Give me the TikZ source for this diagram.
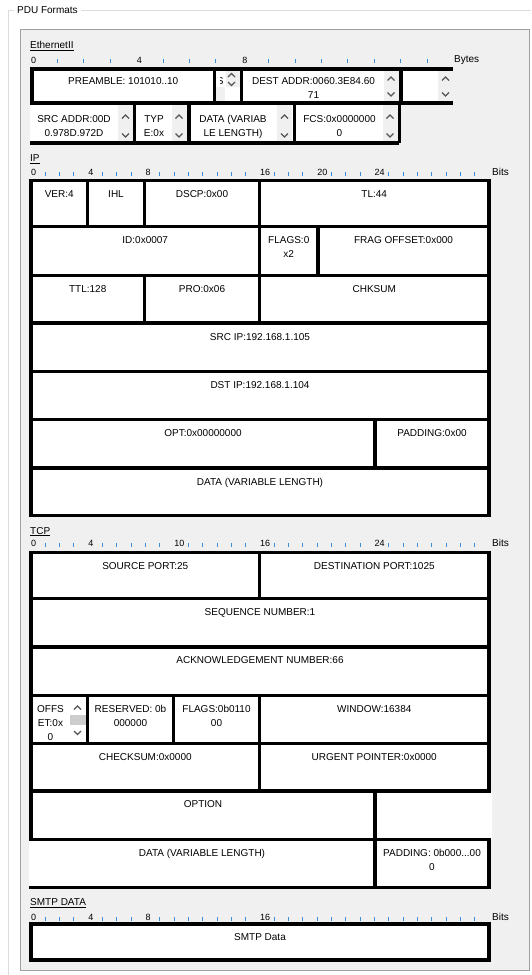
\documentclass[tikz,border=0pt]{standalone}
\usepackage{fontspec}
\setmainfont{Liberation Sans}
\definecolor{panel}{HTML}{F0F0F0}
\definecolor{panelgray}{HTML}{A0A0A0}
\definecolor{framegray}{HTML}{DCDCDC}
\definecolor{tickblue}{HTML}{3C8CDC}
\definecolor{spinbg}{HTML}{F0F0F0}
\definecolor{chev}{HTML}{555555}
\definecolor{thumb}{HTML}{CDCDCD}
\newcommand\fsz{\fontsize{10}{14}\selectfont}
\newcommand\fnum{\fontsize{9}{10}\selectfont}
% spinner: #1 centre x, #2 column top, #3 column bottom, #4 up apex y, #5 down apex y
\newcommand\spinner[5]{%
  \fill[spinbg] ({#1-7.5},#2) rectangle ({#1+7.5},#3);
  \draw[chevron] ({#1-3.5},{#4+3.5}) -- (#1,#4) -- ({#1+3.5},{#4+3.5});
  \draw[chevron] ({#1-3.5},{#5-3.5}) -- (#1,#5) -- ({#1+3.5},{#5-3.5});
}
\begin{document}
\begin{tikzpicture}[x=1pt,y=-1pt,
  cell/.style={draw=black,line width=3.5pt,fill=white},
  edge/.style={draw=black,line width=3.5pt},
  txt/.style={font=\fsz,align=center,anchor=base,inner sep=0pt},
  tk/.style={draw=tickblue,line width=0.9pt},
  num/.style={font=\fnum,anchor=base west,inner sep=0pt},
  sect/.style={font=\fsz,anchor=base west,inner sep=0pt},
  chevron/.style={draw=chev,line width=1.1pt}]
\useasboundingbox (0,0) rectangle (531,975);
\fill[white] (0,0) rectangle (531,975);
% group frame
\draw[framegray,line width=1pt] (531,10.5) -- (8.5,10.5) -- (8.5,975);
\node[sect,fill=white,inner xsep=3pt,inner ysep=1pt] (title) at (14,13.5) {PDU Formats};
% panel
\draw[panelgray,fill=panel,line width=1pt] (20.5,29.5) rectangle (529,970.5);

%%%%%%%%%%%%%%%% Ethernet II
\node[sect] (ethlbl) at (30,48.3) {\underline{EthernetII}};
\foreach \k in {1,2,3,5,6,7,9,10,11,12,13,14,15}
  \draw[tk] ({31+26.4*\k},59.3) -- ++(0,4);
\node[num] (eth0) at (31,63.3) {0};
\node[num] (eth4) at (136.6,63.3) {4};
\node[num] (eth8) at (242.2,63.3) {8};
\node[sect] (bytes) at (454,62) {Bytes};
% open fills
\fill[white] (401,69) rectangle (453,103);
\fill[white] (30,103) rectangle (399,143);
% row 1
\draw[edge] (401,69) -- (453,69) (401,103) -- (453,103);
\draw[cell] (32,69) rectangle (214.5,103);
\draw[cell] (214.5,69) rectangle (241.5,103);
\draw[cell] (241.5,69) rectangle (401,103);
% row 2
\draw[edge] (30,143) -- (399,143);
\draw[edge] (134.7,103) -- (134.7,143) (189,103) -- (189,143)
            (294.5,103) -- (294.5,143) (399,103) -- (399,143);
% SFD cell content
\begin{scope}
  \clip (220.7,71) rectangle (226,101);
  \node[txt] (sfd) at (220.3,84) {S};
\end{scope}
\fill[spinbg] (216.3,87) rectangle (225,101.2);
\fill[spinbg] (226,70.8) rectangle (239.7,87);
\draw[chevron] (228,77) -- (231.5,73.5) -- (235,77);
\draw[chevron] (228,82) -- (231.5,85.5) -- (235,82);
% spinners
\spinner{391}{70.8}{101.2}{77}{96}
\spinner{445.5}{70.8}{101.2}{77}{96}
\spinner{125.5}{104.8}{141.2}{115}{137}
\spinner{179}{104.8}{141.2}{115}{137}
\spinner{284.5}{104.8}{141.2}{115}{137}
\spinner{390}{104.8}{141.2}{115}{137}
% texts (base anchor = baseline of last line)
\node[txt] (pre) at (123.25,84) {PREAMBLE: 101010..10};
\node[txt] (dest) at (313.5,98) {DEST ADDR:0060.3E84.60\\71};
\node[txt] (src) at (74,136.5) {SRC ADDR:00D\\0.978D.972D};
\node[txt] (type) at (154,136.5) {TYP\\E:0x};
\node[txt] (edata) at (233,136.5) {DATA (VARIAB\\LE LENGTH)};
\node[txt] (fcs) at (339.5,136.5) {FCS:0x0000000\\0};

%%%%%%%%%%%%%%%% IP
\node[sect] (iplbl) at (30,161.5) {\underline{IP}};
\foreach \b in {1,2,3,5,6,7,9,10,11,12,13,14,15,17,18,19,21,22,23,25,26,27,28,29,30,31}
  \draw[tk] ({31+14.31*\b},171.7) -- ++(0,4);
\node[num] (ip0) at (31,175.7) {0};
\node[num] (ip4) at (88.2,175.7) {4};
\node[num] (ip8) at (145.5,175.7) {8};
\node[num] (ip16) at (260,175.7) {16};
\node[num] (ip20) at (317.2,175.7) {20};
\node[num] (ip24) at (374.4,175.7) {24};
\node[sect] (ipbits) at (492,175.7) {Bits};
% row 1
\draw[cell] (31,180.5) rectangle (87.5,226.5);
\draw[cell] (87.5,180.5) rectangle (144.5,226.5);
\draw[cell] (144.5,180.5) rectangle (259.5,226.5);
\draw[cell] (259.5,180.5) rectangle (489,226.5);
% row 2
\draw[cell] (31,226.5) rectangle (259.5,275.5);
\draw[cell] (259.5,226.5) rectangle (318,275.5);
\draw[cell] (318,226.5) rectangle (489,275.5);
% row 3
\draw[cell] (31,275.5) rectangle (144.5,323);
\draw[cell] (144.5,275.5) rectangle (259.5,323);
\draw[cell] (259.5,275.5) rectangle (489,323);
% rows 4-7
\draw[cell] (31,323) rectangle (489,371.5);
\draw[cell] (31,371.5) rectangle (489,419.5);
\draw[cell] (31,419.5) rectangle (375,468);
\draw[cell] (375,419.5) rectangle (489,468);
\draw[cell] (31,468) rectangle (489,515.5);
\node[txt] (ver) at (59.25,197.5) {VER:4};
\node[txt] (ihl) at (116,197.5) {IHL};
\node[txt] (dscp) at (202,197.5) {DSCP:0x00};
\node[txt] (tl) at (374.25,197.5) {TL:44};
\node[txt] (id) at (145.25,243.5) {ID:0x0007};
\node[txt] (ipflags) at (288.75,257.5) {FLAGS:0\\x2};
\node[txt] (frag) at (403.5,243.5) {FRAG OFFSET:0x000};
\node[txt] (ttl) at (87.75,292.5) {TTL:128};
\node[txt] (pro) at (202,292.5) {PRO:0x06};
\node[txt] (chk) at (374.25,292.5) {CHKSUM};
\node[txt] (srcip) at (260,340) {SRC IP:192.168.1.105};
\node[txt] (dstip) at (260,388.5) {DST IP:192.168.1.104};
\node[txt] (opt) at (203,436.5) {OPT:0x00000000};
\node[txt] (ippad) at (432,436.5) {PADDING:0x00};
\node[txt] (ipdata) at (260,485) {DATA (VARIABLE LENGTH)};

%%%%%%%%%%%%%%%% TCP
\node[sect] (tcplbl) at (30,534) {\underline{TCP}};
\foreach \b in {1,2,3,5,6,7,8,9,11,12,13,14,15,17,18,19,20,21,22,23,25,26,27,28,29,30,31}
  \draw[tk] ({31+14.31*\b},542.7) -- ++(0,4);
\node[num] (tcp0) at (31,546.7) {0};
\node[num] (tcp4) at (88.2,546.7) {4};
\node[num] (tcp10) at (174.1,546.7) {10};
\node[num] (tcp16) at (260,546.7) {16};
\node[num] (tcp24) at (374.4,546.7) {24};
\node[sect] (tcpbits) at (492,546.7) {Bits};
% open fills
\fill[white] (375,791) rectangle (491.5,839.5);
\fill[white] (29.3,839.5) rectangle (375,887.5);
\draw[cell] (31,552.5) rectangle (259.5,598.5);
\draw[cell] (259.5,552.5) rectangle (489,598.5);
\draw[cell] (31,598.5) rectangle (489,647);
\draw[cell] (31,647) rectangle (489,695.5);
\draw[cell] (31,695.5) rectangle (87.5,743.5);
\draw[cell] (87.5,695.5) rectangle (173.5,743.5);
\draw[cell] (173.5,695.5) rectangle (259.5,743.5);
\draw[cell] (259.5,695.5) rectangle (489,743.5);
\draw[cell] (31,743.5) rectangle (259.5,791);
\draw[cell] (259.5,743.5) rectangle (489,791);
\draw[cell] (31,791) rectangle (375,839.5);
\draw[cell] (375,839.5) rectangle (489,887.5);
\draw[edge] (29.3,887.5) -- (375,887.5);
% offset spinner
\fill[white] (70,697.3) rectangle (85.7,741.7);
\fill[thumb] (70,715) rectangle (85.7,725);
\draw[chevron] (74,709.5) -- (77.5,706) -- (81,709.5);
\draw[chevron] (74,731) -- (77.5,734.5) -- (81,731);
\node[txt] (sport) at (145.25,569) {SOURCE PORT:25};
\node[txt] (dport) at (374.25,569) {DESTINATION PORT:1025};
\node[txt] (seq) at (260,615) {SEQUENCE NUMBER:1};
\node[txt] (ack) at (260,663.5) {ACKNOWLEDGEMENT NUMBER:66};
\node[txt] (offs) at (50.5,740.5) {OFFS\\ET:0x\\0};
\node[txt] (resv) at (130.5,726.5) {RESERVED: 0b\\000000};
\node[txt] (tflags) at (216.5,726.5) {FLAGS:0b0110\\00};
\node[txt] (win) at (374.25,712.5) {WINDOW:16384};
\node[txt] (tchk) at (145.25,760) {CHECKSUM:0x0000};
\node[txt] (urg) at (374.25,760) {URGENT POINTER:0x0000};
\node[txt] (option) at (203,807.5) {OPTION};
\node[txt] (tdata) at (202,856) {DATA (VARIABLE LENGTH)};
\node[txt] (tpad) at (432,870) {PADDING: 0b000...00\\0};

%%%%%%%%%%%%%%%% SMTP
\node[sect] (smtplbl) at (30,905.5) {\underline{SMTP DATA}};
\foreach \b in {1,2,3,5,6,7,9,10,11,12,13,14,15,17,18,19,20,21,22,23,24,25,26,27,28,29,30,31}
  \draw[tk] ({31+14.31*\b},916.5) -- ++(0,4);
\node[num] (sm0) at (31,920.5) {0};
\node[num] (sm4) at (88.2,920.5) {4};
\node[num] (sm8) at (145.5,920.5) {8};
\node[num] (sm16) at (260,920.5) {16};
\node[sect] (smbits) at (492,920.5) {Bits};
\draw[cell] (31,924) rectangle (489,960);
\node[txt] (smtp) at (260,940) {SMTP Data};
\end{tikzpicture}
\end{document}
